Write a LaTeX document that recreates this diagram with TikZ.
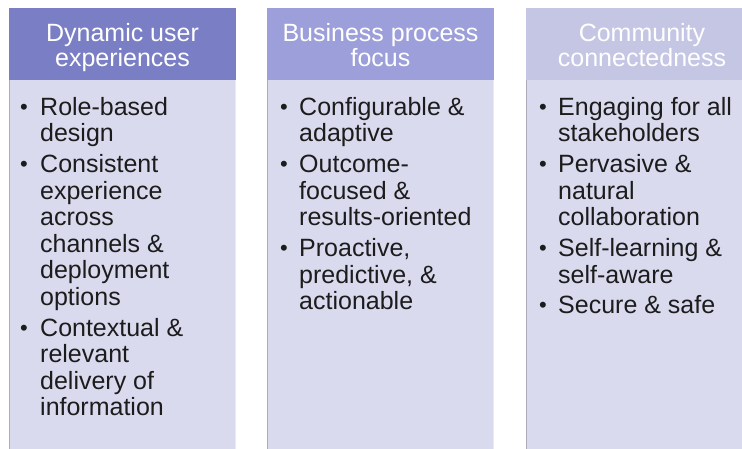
\documentclass[tikz,border=0pt]{standalone}
\usepackage{fontspec}
\setmainfont{Liberation Sans}
\definecolor{hdrA}{HTML}{7A7EC4}
\definecolor{hdrB}{HTML}{9C9FDA}
\definecolor{hdrC}{HTML}{C5C6E4}
\definecolor{bodyfill}{HTML}{D9DAEE}
\definecolor{edgedark}{HTML}{ABABBD}
\definecolor{edgelight}{HTML}{E9E9F5}
\definecolor{txt}{HTML}{1C1C1C}
\newcommand\hdrtext[2]{\vtop{\baselineskip=25pt\hbox to 0pt{\hss#1\hss}\hbox to 0pt{\hss#2\hss}}}
\newcommand\itemlines[1]{\vtop{\baselineskip=26.5pt\halign{##\hfil\cr#1\crcr}}}
\newcommand\smallbullet{\raisebox{1pt}{\fontsize{22pt}{22pt}\selectfont •}}
\tikzset{
  hdrbox/.style={draw=none},
  bodybox/.style={fill=bodyfill},
  hdrlabel/.style={inner sep=0pt, anchor=base, text=white, font=\fontsize{25pt}{25pt}\selectfont},
  itemtext/.style={inner sep=0pt, anchor=base west, text=txt, font=\fontsize{25pt}{26.5pt}\selectfont},
  bulletmark/.style={inner sep=0pt, anchor=base west, text=txt}
}
\begin{document}
\begin{tikzpicture}[x=1pt,y=-1pt]
\useasboundingbox (0,0) rectangle (742,448);
\clip (0,0) rectangle (742,448);
\fill[white] (0,0) rectangle (742,448);
% column boxes
\foreach \l/\r/\c in {9/236/hdrA, 267/494/hdrB, 526/758/hdrC}{
  \fill[bodyfill] (\l,80) rectangle (\r,460);
  \fill[\c] (\l,8) rectangle (\r,80);
  \draw[edgedark, line width=1.2pt] (\l+0.6,80) -- (\l+0.6,460);
  \draw[edgelight, line width=1.2pt] (\r-0.6,80) -- (\r-0.6,460);
}
% headers
\node[hdrlabel] (h1) at (122.5,41) {\hdrtext{Dynamic user}{experiences}};
\node[hdrlabel] (h2) at (380.5,41) {\hdrtext{Business process}{focus}};
\node[hdrlabel] (h3) at (642,41) {\hdrtext{Community}{connectedness}};
% column 1
\node[bulletmark] (b11) at (20,115) {\smallbullet};
\node[itemtext] (t11) at (40,115) {\itemlines{Role-based\cr design}};
\node[bulletmark] (b12) at (20,172.5) {\smallbullet};
\node[itemtext] (t12) at (40,172.5) {\itemlines{Consistent\cr experience\cr across\cr channels \&\cr deployment\cr options}};
\node[bulletmark] (b13) at (20,336) {\smallbullet};
\node[itemtext] (t13) at (40,336) {\itemlines{Contextual \&\cr relevant\cr delivery of\cr information}};
% column 2
\node[bulletmark] (b21) at (280,115) {\smallbullet};
\node[itemtext] (t21) at (299,115) {\itemlines{Configurable \&\cr adaptive}};
\node[bulletmark] (b22) at (280,172.5) {\smallbullet};
\node[itemtext] (t22) at (299,172.5) {\itemlines{Outcome-\cr focused \&\cr results-oriented}};
\node[bulletmark] (b23) at (280,256.5) {\smallbullet};
\node[itemtext] (t23) at (299,256.5) {\itemlines{Proactive,\cr predictive, \&\cr actionable}};
% column 3
\node[bulletmark] (b31) at (539,115) {\smallbullet};
\node[itemtext] (t31) at (558,115) {\itemlines{Engaging for all\cr stakeholders}};
\node[bulletmark] (b32) at (539,172.5) {\smallbullet};
\node[itemtext] (t32) at (558,172.5) {\itemlines{Pervasive \&\cr natural\cr collaboration}};
\node[bulletmark] (b33) at (539,256.5) {\smallbullet};
\node[itemtext] (t33) at (558,256.5) {\itemlines{Self-learning \&\cr self-aware}};
\node[bulletmark] (b34) at (539,313) {\smallbullet};
\node[itemtext] (t34) at (558,313) {\itemlines{Secure \& safe}};
\end{tikzpicture}
\end{document}
